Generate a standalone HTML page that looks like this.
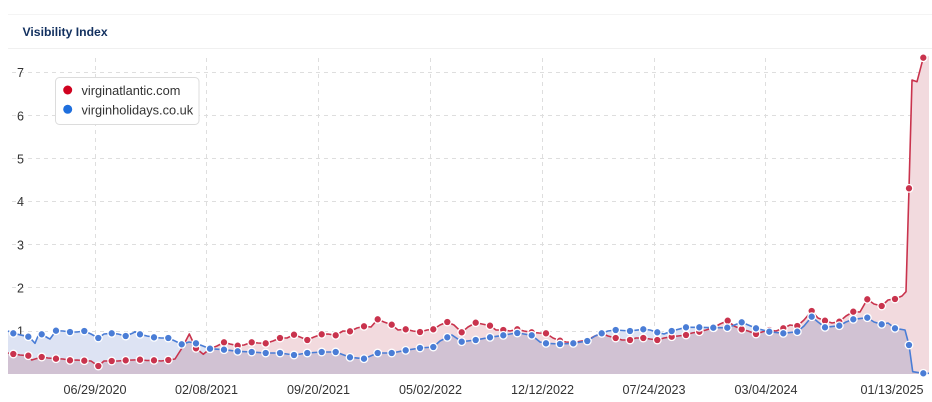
<!DOCTYPE html>
<html>
<head>
<meta charset="utf-8">
<style>
html,body{margin:0;padding:0;background:#fff;}
body{width:932px;height:402px;overflow:hidden;font-family:"Liberation Sans",Arial,sans-serif;}
svg{display:block;}
</style>
</head>
<body>
<svg width="932" height="402" viewBox="0 0 932 402" xmlns="http://www.w3.org/2000/svg" font-family="Liberation Sans, Arial, sans-serif">
  <!-- card edges -->
  <line x1="8" y1="14.5" x2="932" y2="14.5" stroke="#f4f4f4" stroke-width="1"/>
  <line x1="8" y1="48.5" x2="932" y2="48.5" stroke="#f0f0f0" stroke-width="1"/>
  <text x="22.5" y="36" font-size="12.2" font-weight="bold" fill="#12305f">Visibility Index</text>

  <!-- horizontal grid -->
  <g stroke="#dedede" stroke-width="1" stroke-dasharray="4,4">
    <line x1="12" y1="72.5" x2="929" y2="72.5"/>
    <line x1="12" y1="115.5" x2="929" y2="115.5"/>
    <line x1="12" y1="158.5" x2="929" y2="158.5"/>
    <line x1="12" y1="201.5" x2="929" y2="201.5"/>
    <line x1="12" y1="244.5" x2="929" y2="244.5"/>
    <line x1="12" y1="287.5" x2="929" y2="287.5"/>
    <line x1="12" y1="331.5" x2="929" y2="331.5"/>
  </g>
  <!-- vertical grid -->
  <g stroke="#dedede" stroke-width="1" stroke-dasharray="4,4">
    <line x1="95.5" y1="58" x2="95.5" y2="374"/>
    <line x1="206.5" y1="58" x2="206.5" y2="374"/>
    <line x1="318.5" y1="58" x2="318.5" y2="374"/>
    <line x1="430.5" y1="58" x2="430.5" y2="374"/>
    <line x1="542.5" y1="58" x2="542.5" y2="374"/>
    <line x1="654.5" y1="58" x2="654.5" y2="374"/>
    <line x1="765.5" y1="58" x2="765.5" y2="374"/>
    <line x1="923.5" y1="58" x2="923.5" y2="374"/>
  </g>

  <!-- y labels -->
  <g font-size="12.5" fill="#333">
    <text x="17" y="77">7</text>
    <text x="17" y="120.5">6</text>
    <text x="17" y="163.5">5</text>
    <text x="17" y="206">4</text>
    <text x="17" y="249.5">3</text>
    <text x="17" y="292.5">2</text>
    <text x="17" y="335.5">1</text>
  </g>

  <!-- areas -->
  <g style="isolation:isolate">
  <path fill="#f2dade" d="M8,374 L8,353 L13.3,354 L20,355 L28.3,355.7 L31.7,360 L35,359 L41.7,357 L48,358 L56,358.7 L63,359 L70,360.3 L77,360 L84.3,360.7 L91,361 L98.3,366 L104,361 L111.7,361 L118,361 L125.7,360.3 L133,360 L140,359.7 L147,360.5 L154,360.3 L161,361 L168.3,360 L175,359 L182,348 L189.3,334 L196,348.3 L203.3,354.3 L210,348.7 L217,346 L224,342.3 L230,344 L237.7,345.7 L244,345 L251.7,342.3 L258,343 L265.7,343.3 L273,341 L280,338 L287,338 L294,334.7 L300,337 L307.3,340 L314,337 L321.7,334.3 L328,334 L335.7,335.3 L343,331 L350,331.3 L357,328 L364,326.3 L371,327 L377.7,319.3 L384,322 L391.7,324.7 L398,330 L405.7,329.3 L413,331 L420,332 L427,330 L433.3,329.3 L440,325 L447.3,322 L454,325 L461.7,332.3 L468,327 L475.7,322.7 L482,324 L490,325.7 L496,330 L503.3,330 L510,331 L517.3,329.3 L524,331 L531.7,332.3 L539,333 L546,333.3 L553,338 L560,340.7 L566,342 L573.3,342.5 L587.3,340 L595,336 L601.7,333.3 L608,336 L615.7,338 L622,340 L630,340 L636,338 L643.3,338 L650,339 L657.3,340 L664,338 L671.7,336.7 L678,336 L686,335 L692,333 L699.3,331.7 L706,330 L713.7,327.7 L720,324 L727.7,320.7 L734,326 L741.7,329.3 L748,331 L756,334 L762,332 L769.3,330 L776,331 L783.3,328.3 L790,325 L797.3,326 L804,320 L811.7,311 L818,318 L825,320.7 L832,323 L839.3,321.7 L846,316 L853.3,311.7 L860,312 L867.3,299.3 L874,304 L881.7,306 L888,300 L895,299 L902,296 L906,291.7 L909,188.3 L912,80 L917,81.7 L923.3,57.7 L929,56 L929,374 Z"/>
  <path fill="#dde3f3" style="mix-blend-mode:multiply" d="M8,374 L8,331 L13.3,333.3 L28.3,336.7 L32,340 L35,343.3 L38,336 L41.7,334.3 L48,338 L50,339 L56,330.7 L63,331 L70,332 L77,332 L84.3,331 L91,334 L98.3,338 L104,334 L111.7,333.3 L118,334 L125.7,336 L133,333 L135,331.7 L140,334.3 L147,336 L154,337.3 L161,338 L168.3,338 L175,341 L181.7,344.3 L189,342 L196,343.3 L203,346 L210,348.7 L224,349.7 L237.7,351.3 L251.7,352 L265.7,353 L280,353 L294,355 L307.3,353 L321.7,352 L335.7,352 L350,357.3 L364,358.7 L377.7,353 L391.7,353 L405.7,350.3 L420,348 L433.3,347 L440,341 L447.3,337.3 L452,335 L461.7,341.7 L475.7,340 L490,337.3 L503.3,335.3 L510,334 L517.3,333 L524,334 L531.7,335.3 L540,342 L546,343.3 L560,344 L573.3,343.3 L587.3,341 L595,336 L601.7,333.3 L608,331 L615.7,330 L630,331 L643.3,329.3 L650,330 L657.3,332.3 L664,334 L671.7,331 L686,327.3 L698.3,327.3 L713.3,327.7 L727.3,327.7 L741.7,322.3 L756,328.3 L769.3,331.7 L783.3,333.3 L797.3,331.7 L804,326 L811.7,316.7 L818,322 L825,327.3 L839.3,325.7 L846,322 L853.3,319.3 L867.3,317.7 L874,322 L881.7,324.3 L888,323 L895,328.3 L905,330 L909,345 L912.7,371.7 L923.3,373.3 L929,373.3 L929,374 Z"/>
  </g>

  <!-- red line -->
  <polyline fill="none" stroke="#c9334d" stroke-width="1.6" stroke-linejoin="round" points="8,353 13.3,354 20,355 28.3,355.7 31.7,360 35,359 41.7,357 48,358 56,358.7 63,359 70,360.3 77,360 84.3,360.7 91,361 98.3,366 104,361 111.7,361 118,361 125.7,360.3 133,360 140,359.7 147,360.5 154,360.3 161,361 168.3,360 175,359 182,348 189.3,334 196,348.3 203.3,354.3 210,348.7 217,346 224,342.3 230,344 237.7,345.7 244,345 251.7,342.3 258,343 265.7,343.3 273,341 280,338 287,338 294,334.7 300,337 307.3,340 314,337 321.7,334.3 328,334 335.7,335.3 343,331 350,331.3 357,328 364,326.3 371,327 377.7,319.3 384,322 391.7,324.7 398,330 405.7,329.3 413,331 420,332 427,330 433.3,329.3 440,325 447.3,322 454,325 461.7,332.3 468,327 475.7,322.7 482,324 490,325.7 496,330 503.3,330 510,331 517.3,329.3 524,331 531.7,332.3 539,333 546,333.3 553,338 560,340.7 566,342 573.3,342.5 587.3,340 595,336 601.7,333.3 608,336 615.7,338 622,340 630,340 636,338 643.3,338 650,339 657.3,340 664,338 671.7,336.7 678,336 686,335 692,333 699.3,331.7 706,330 713.7,327.7 720,324 727.7,320.7 734,326 741.7,329.3 748,331 756,334 762,332 769.3,330 776,331 783.3,328.3 790,325 797.3,326 804,320 811.7,311 818,318 825,320.7 832,323 839.3,321.7 846,316 853.3,311.7 860,312 867.3,299.3 874,304 881.7,306 888,300 895,299 902,296 906,291.7 909,188.3 912,80 917,81.7 923.3,57.7 927,56"/>
  <!-- red markers -->
  <g fill="#c9334d" stroke="#fff" stroke-width="1.3">
    <circle cx="13.3" cy="354" r="3.8"/><circle cx="28.3" cy="355.7" r="3.8"/><circle cx="41.7" cy="357" r="3.8"/><circle cx="56" cy="358.7" r="3.8"/><circle cx="70" cy="360.3" r="3.8"/><circle cx="84.3" cy="360.7" r="3.8"/><circle cx="98.3" cy="366" r="3.8"/><circle cx="111.7" cy="361" r="3.8"/><circle cx="125.7" cy="360.3" r="3.8"/><circle cx="140" cy="359.7" r="3.8"/><circle cx="154" cy="360.3" r="3.8"/><circle cx="168.3" cy="360" r="3.8"/><circle cx="196" cy="348.3" r="3.8"/><circle cx="210" cy="348.7" r="3.8"/><circle cx="224" cy="342.3" r="3.8"/><circle cx="237.7" cy="345.7" r="3.8"/><circle cx="251.7" cy="342.3" r="3.8"/><circle cx="265.7" cy="343.3" r="3.8"/><circle cx="280" cy="338" r="3.8"/><circle cx="294" cy="334.7" r="3.8"/><circle cx="307.3" cy="340" r="3.8"/><circle cx="321.7" cy="334.3" r="3.8"/><circle cx="335.7" cy="335.3" r="3.8"/><circle cx="350" cy="331.3" r="3.8"/><circle cx="364" cy="326.3" r="3.8"/><circle cx="377.7" cy="319.3" r="3.8"/><circle cx="391.7" cy="324.7" r="3.8"/><circle cx="405.7" cy="329.3" r="3.8"/><circle cx="420" cy="332" r="3.8"/><circle cx="433.3" cy="329.3" r="3.8"/><circle cx="447.3" cy="322" r="3.8"/><circle cx="461.7" cy="332.3" r="3.8"/><circle cx="475.7" cy="322.7" r="3.8"/><circle cx="490" cy="325.7" r="3.8"/><circle cx="503.3" cy="330" r="3.8"/><circle cx="517.3" cy="329.3" r="3.8"/><circle cx="531.7" cy="332.3" r="3.8"/><circle cx="546" cy="333.3" r="3.8"/><circle cx="560" cy="340.7" r="3.8"/><circle cx="573.3" cy="342.5" r="3.8"/><circle cx="587.3" cy="340" r="3.8"/><circle cx="601.7" cy="333.3" r="3.8"/><circle cx="615.7" cy="338" r="3.8"/><circle cx="630" cy="340" r="3.8"/><circle cx="643.3" cy="338" r="3.8"/><circle cx="657.3" cy="340" r="3.8"/><circle cx="671.7" cy="336.7" r="3.8"/><circle cx="686" cy="335" r="3.8"/><circle cx="699.3" cy="331.7" r="3.8"/><circle cx="713.7" cy="327.7" r="3.8"/><circle cx="727.7" cy="320.7" r="3.8"/><circle cx="741.7" cy="329.3" r="3.8"/><circle cx="756" cy="334" r="3.8"/><circle cx="769.3" cy="330" r="3.8"/><circle cx="783.3" cy="328.3" r="3.8"/><circle cx="797.3" cy="326" r="3.8"/><circle cx="811.7" cy="311" r="3.8"/><circle cx="825" cy="320.7" r="3.8"/><circle cx="839.3" cy="321.7" r="3.8"/><circle cx="853.3" cy="311.7" r="3.8"/><circle cx="867.3" cy="299.3" r="3.8"/><circle cx="881.7" cy="306" r="3.8"/><circle cx="895" cy="299" r="3.8"/><circle cx="909" cy="188.3" r="3.8"/><circle cx="923.3" cy="57.7" r="3.8"/>
  </g>

  <!-- blue line -->
  <polyline fill="none" stroke="#4a7dd6" stroke-width="1.6" stroke-linejoin="round" points="8,331 13.3,333.3 28.3,336.7 32,340 35,343.3 38,336 41.7,334.3 48,338 50,339 56,330.7 63,331 70,332 77,332 84.3,331 91,334 98.3,338 104,334 111.7,333.3 118,334 125.7,336 133,333 135,331.7 140,334.3 147,336 154,337.3 161,338 168.3,338 175,341 181.7,344.3 189,342 196,343.3 203,346 210,348.7 224,349.7 237.7,351.3 251.7,352 265.7,353 280,353 294,355 307.3,353 321.7,352 335.7,352 350,357.3 364,358.7 377.7,353 391.7,353 405.7,350.3 420,348 433.3,347 440,341 447.3,337.3 452,335 461.7,341.7 475.7,340 490,337.3 503.3,335.3 510,334 517.3,333 524,334 531.7,335.3 540,342 546,343.3 560,344 573.3,343.3 587.3,341 595,336 601.7,333.3 608,331 615.7,330 630,331 643.3,329.3 650,330 657.3,332.3 664,334 671.7,331 686,327.3 698.3,327.3 713.3,327.7 727.3,327.7 741.7,322.3 756,328.3 769.3,331.7 783.3,333.3 797.3,331.7 804,326 811.7,316.7 818,322 825,327.3 839.3,325.7 846,322 853.3,319.3 867.3,317.7 874,322 881.7,324.3 888,323 895,328.3 905,330 909,345 912.7,371.7 923.3,373.3 929,373.3"/>
  <!-- blue markers -->
  <g fill="#4a7dd6" stroke="#fff" stroke-width="1.3">
    <circle cx="13.3" cy="333.3" r="3.8"/><circle cx="28.3" cy="336.7" r="3.8"/><circle cx="41.7" cy="334.3" r="3.8"/><circle cx="56" cy="330.7" r="3.8"/><circle cx="70" cy="332" r="3.8"/><circle cx="84.3" cy="331" r="3.8"/><circle cx="98.3" cy="338" r="3.8"/><circle cx="111.7" cy="333.3" r="3.8"/><circle cx="125.7" cy="336" r="3.8"/><circle cx="140" cy="334.3" r="3.8"/><circle cx="154" cy="337.3" r="3.8"/><circle cx="168.3" cy="338" r="3.8"/><circle cx="181.7" cy="344.3" r="3.8"/><circle cx="196" cy="343.3" r="3.8"/><circle cx="210" cy="348.7" r="3.8"/><circle cx="224" cy="349.7" r="3.8"/><circle cx="237.7" cy="351.3" r="3.8"/><circle cx="251.7" cy="352" r="3.8"/><circle cx="265.7" cy="353" r="3.8"/><circle cx="280" cy="353" r="3.8"/><circle cx="294" cy="355" r="3.8"/><circle cx="307.3" cy="353" r="3.8"/><circle cx="321.7" cy="352" r="3.8"/><circle cx="335.7" cy="352" r="3.8"/><circle cx="350" cy="357.3" r="3.8"/><circle cx="364" cy="358.7" r="3.8"/><circle cx="377.7" cy="353" r="3.8"/><circle cx="391.7" cy="353" r="3.8"/><circle cx="405.7" cy="350.3" r="3.8"/><circle cx="420" cy="348" r="3.8"/><circle cx="433.3" cy="347" r="3.8"/><circle cx="447.3" cy="337.3" r="3.8"/><circle cx="461.7" cy="341.7" r="3.8"/><circle cx="475.7" cy="340" r="3.8"/><circle cx="490" cy="337.3" r="3.8"/><circle cx="503.3" cy="335.3" r="3.8"/><circle cx="517.3" cy="333" r="3.8"/><circle cx="531.7" cy="335.3" r="3.8"/><circle cx="546" cy="343.3" r="3.8"/><circle cx="560" cy="344" r="3.8"/><circle cx="573.3" cy="343.3" r="3.8"/><circle cx="587.3" cy="341" r="3.8"/><circle cx="601.7" cy="333.3" r="3.8"/><circle cx="615.7" cy="330" r="3.8"/><circle cx="630" cy="331" r="3.8"/><circle cx="643.3" cy="329.3" r="3.8"/><circle cx="657.3" cy="332.3" r="3.8"/><circle cx="671.7" cy="331" r="3.8"/><circle cx="686" cy="327.3" r="3.8"/><circle cx="699.3" cy="327.3" r="3.8"/><circle cx="713.3" cy="327.7" r="3.8"/><circle cx="727.3" cy="327.7" r="3.8"/><circle cx="741.7" cy="322.3" r="3.8"/><circle cx="756" cy="328.3" r="3.8"/><circle cx="769.3" cy="331.7" r="3.8"/><circle cx="783.3" cy="333.3" r="3.8"/><circle cx="797.3" cy="331.7" r="3.8"/><circle cx="811.7" cy="316.7" r="3.8"/><circle cx="825" cy="327.3" r="3.8"/><circle cx="839.3" cy="325.7" r="3.8"/><circle cx="853.3" cy="319.3" r="3.8"/><circle cx="867.3" cy="317.7" r="3.8"/><circle cx="881.7" cy="324.3" r="3.8"/><circle cx="895" cy="328.3" r="3.8"/><circle cx="909" cy="345" r="3.8"/><circle cx="923.3" cy="373.3" r="3.8"/>
  </g>

  <!-- x labels -->
  <g font-size="12.6" fill="#333" text-anchor="middle">
    <text x="95" y="394">06/29/2020</text>
    <text x="206.5" y="394">02/08/2021</text>
    <text x="318.5" y="394">09/20/2021</text>
    <text x="430.5" y="394">05/02/2022</text>
    <text x="542.5" y="394">12/12/2022</text>
    <text x="654" y="394">07/24/2023</text>
    <text x="766" y="394">03/04/2024</text>
    <text x="892" y="394">01/13/2025</text>
  </g>

  <!-- legend -->
  <rect x="55.5" y="77.5" width="143.5" height="47" rx="4" ry="4" fill="#fff" stroke="#dcdcdc" stroke-width="1"/>
  <circle cx="67.7" cy="90" r="4.5" fill="#d0021f"/>
  <text x="81.5" y="95" font-size="12.8" fill="#333">virginatlantic.com</text>
  <circle cx="67.7" cy="109.3" r="4.5" fill="#1f6fdd"/>
  <text x="81.5" y="114.3" font-size="12.8" fill="#333">virginholidays.co.uk</text>
</svg>
</body>
</html>
